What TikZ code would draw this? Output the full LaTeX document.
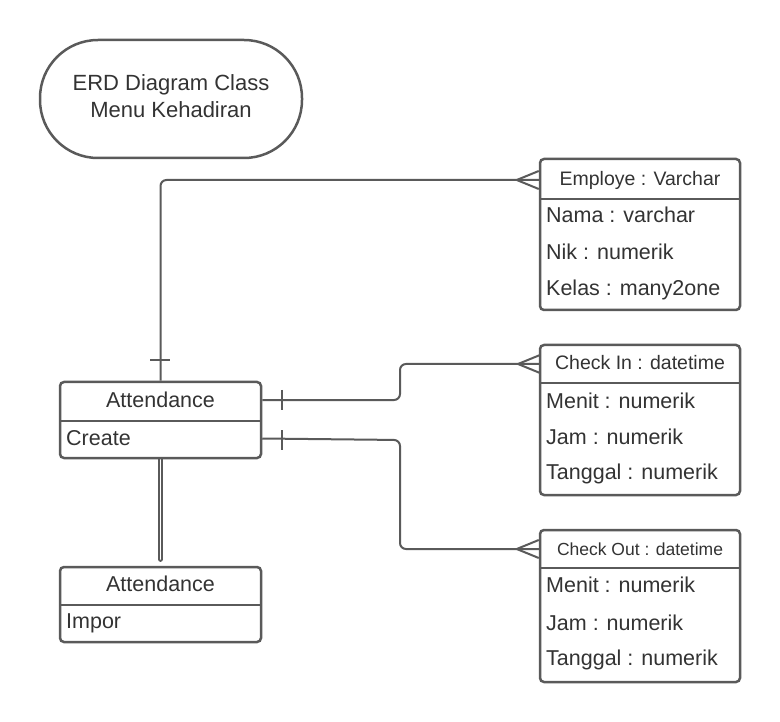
\documentclass[tikz,border=0pt]{standalone}
\usepackage{fontspec}
\setmainfont{Liberation Sans}
\definecolor{ln}{HTML}{5A5A5A}
\definecolor{tx}{HTML}{333333}
\begin{document}
\begin{tikzpicture}[x=1pt,y=-1pt,
  box/.style={draw=ln, line width=2.5pt, rounded corners=4pt, fill=white, inner sep=0pt},
  hdr/.style={text=tx, inner sep=0pt, font=\fontsize{19.5}{23}\selectfont},
  row/.style={text=tx, inner sep=0pt, anchor=west, font=\fontsize{21.5}{25}\selectfont},
  ttl/.style={text=tx, inner sep=0pt, font=\fontsize{21.5}{25}\selectfont},
  conn/.style={draw=ln, line width=2pt, rounded corners=6pt},
  tick/.style={draw=ln, line width=2pt}
]
\useasboundingbox (0,0) rectangle (780,722);

% double line (drawn first, boxes cover its top)
\coordinate (dtop) at (160.5,440);
\coordinate (dbot) at (160.5,559);
\draw[ln, line width=2pt, double=white, double distance=1.8pt, line cap=round] (dtop) -- (dbot);

% title
\node[draw=ln, line width=2.5pt, rounded corners=58pt, minimum width=262pt, minimum height=118pt, inner sep=0pt, align=center, text=tx, font=\fontsize{22}{27}\selectfont] (title) at (171,99) {};
\node[align=center, text=tx, inner sep=0pt, font=\fontsize{22}{27}\selectfont] (titletext) at (171,96.5) {ERD Diagram Class\\Menu Kehadiran};

% Employe
\node[box, minimum width=200pt, minimum height=151pt] (emp) at (640,234.5) {};
\draw[ln, line width=2.5pt] (540,199) -- (740,199);
\node[hdr] (emph) at (640,180) {Employe : Varchar};
\node[row] (emp1) at (546,215) {Nama : varchar};
\node[row] (emp2) at (546,252) {Nik : numerik};
\node[row] (emp3) at (546,290) {Kelas : many2one};

% Check In
\node[box, minimum width=200pt, minimum height=150pt] (cin) at (640,420) {};
\draw[ln, line width=2.5pt] (540,383) -- (740,383);
\node[hdr] (cinh) at (640,363) {Check In : datetime};
\node[row] (cin1) at (546,401) {Menit : numerik};
\node[row] (cin2) at (546,437) {Jam : numerik};
\node[row] (cin3) at (546,474) {Tanggal : numerik};

% Check Out
\node[box, minimum width=200pt, minimum height=152pt] (cout) at (640,606) {};
\draw[ln, line width=2.5pt] (540,568) -- (740,568);
\node[hdr, font=\fontsize{17.5}{21}\selectfont] (couth) at (640,549) {Check Out : datetime};
\node[row] (cout1) at (546,585) {Menit : numerik};
\node[row] (cout2) at (546,623) {Jam : numerik};
\node[row] (cout3) at (546,660) {Tanggal : numerik};

% Attendance 1
\node[box, minimum width=201pt, minimum height=76pt] (att) at (160.5,420) {};
\draw[ln, line width=2.5pt] (60,421) -- (261,421);
\node[ttl] (atth) at (160.5,400) {Attendance};
\node[row] (att1) at (66,438.5) {Create};

% Attendance 2
\node[box, minimum width=201pt, minimum height=75pt] (imp) at (160.5,604.5) {};
\draw[ln, line width=2.5pt] (60,605) -- (261,605);
\node[ttl] (imph) at (160.5,584) {Attendance};
\node[row] (imp1) at (66,623) {Impor};

% crow's foot ends
\coordinate (e1) at (emp.west |- emph);
\coordinate (e2) at (cin.west |- cinh);
\coordinate (e3) at (cout.west |- couth);

% connectors
\draw[conn] (att.north) -- (att.north |- emph) -- (e1);
\draw[conn] (att.east |- atth) -- (400,400) -- (400,364) -- (540,364);
\draw[conn] (att.east |- att1) -- (400,440) -- (400,549) -- (e3);

% bars
\draw[tick] (150,360) -- (170,360);
\draw[tick] (282,390) -- (282,410);
\draw[tick] (282,430) -- (282,450);

% crow's feet
\foreach \p in {e1,e3}{
  \draw[tick] ([xshift=-22pt]\p) -- ([yshift=-9pt]\p);
  \draw[tick] ([xshift=-22pt]\p) -- ([yshift=9pt]\p);
}
\draw[tick] (518,364) -- (540,355);
\draw[tick] (518,364) -- (540,373);
\end{tikzpicture}
\end{document}
